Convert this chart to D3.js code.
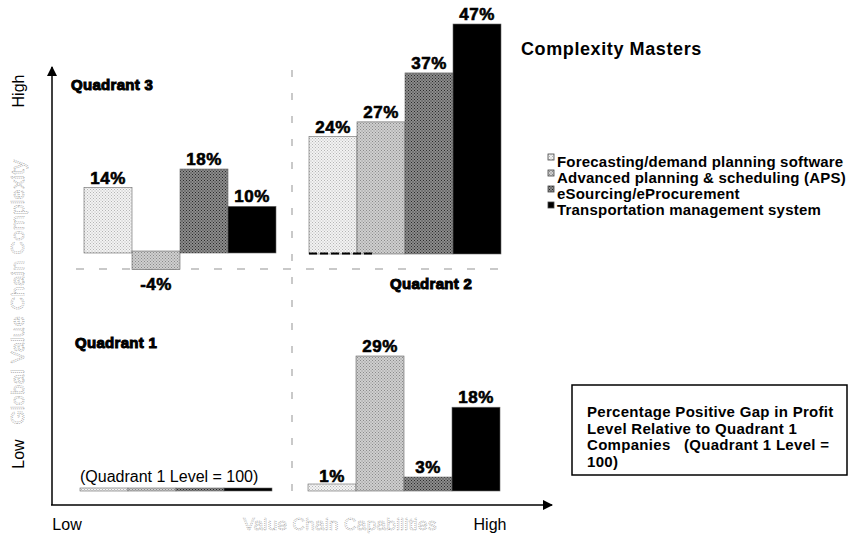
<!DOCTYPE html>
<html>
<head>
<meta charset="utf-8">
<script src="https://cdn.jsdelivr.net/npm/d3@7"></script>
<style>
  body { margin: 0; background: #fff; }
  text { font-family: "Liberation Sans", Arial, sans-serif; }
</style>
</head>
<body>
<script>
// series and values
const series = [
    "Forecasting/demand planning software",
    "Advanced planning & scheduling (APS)",
    "eSourcing/eProcurement",
    "Transportation management system"
]
const q3Values = [14, -4, 18, 10]
const q2Values = [24, 27, 37, 47]
const q1Values = [1, 29, 3, 18]
const q1Level = [0, 0, 0, 0]
const boxLines = [
    "Percentage Positive Gap in Profit",
    "Level Relative to Quadrant 1",
    "Companies   (Quadrant 1 Level =",
    "100)"
]

let width = 849
let height = 539

let svg = d3.select("body")
    .append("svg")
    .attr("width", width)
    .attr("height", height)

// textures close to the grey-scale print
let defs = svg.append("defs")
let patterns = [
    {id: "p0", bg: "#f3f3f3", fg: "#b5b5b5"},
    {id: "p1", bg: "#cfcfcf", fg: "#8a8a8a"},
    {id: "p2", bg: "#8c8c8c", fg: "#2a2a2a"},
    {id: "p3", bg: "#000000", fg: "#000000"}
]
patterns.forEach(p => {
    let pat = defs.append("pattern")
        .attr("id", p.id)
        .attr("width", 3).attr("height", 3)
        .attr("patternUnits", "userSpaceOnUse")
    pat.append("rect").attr("width", 3).attr("height", 3).attr("fill", p.bg)
    pat.append("rect").attr("width", 1).attr("height", 1).attr("fill", p.fg)
    pat.append("rect").attr("x", 1.5).attr("y", 1.5).attr("width", 1).attr("height", 1).attr("fill", p.fg)
})
let fillOf = i => "url(#p" + i + ")"

// axes with arrow heads
defs.append("marker")
    .attr("id", "arrow")
    .attr("viewBox", "0 0 10 10")
    .attr("refX", 9).attr("refY", 5)
    .attr("markerWidth", 7).attr("markerHeight", 7)
    .attr("orient", "auto")
    .append("path").attr("d", "M0,0 L10,5 L0,10 z").attr("fill", "#000")

svg.append("line")
    .attr("x1", 52).attr("y1", 505).attr("x2", 52).attr("y2", 67)
    .attr("stroke", "#000").attr("stroke-width", 1.5)
    .attr("marker-end", "url(#arrow)")
svg.append("line")
    .attr("x1", 51).attr("y1", 505).attr("x2", 552).attr("y2", 505)
    .attr("stroke", "#000").attr("stroke-width", 1.5)
    .attr("marker-end", "url(#arrow)")

// dotted quadrant dividers
svg.append("line")
    .attr("x1", 292).attr("y1", 70).attr("x2", 292).attr("y2", 492)
    .attr("stroke", "#b8b8b8").attr("stroke-width", 1.5)
    .attr("stroke-dasharray", "7,16")
svg.append("line")
    .attr("x1", 76).attr("y1", 269).attr("x2", 510).attr("y2", 269)
    .attr("stroke", "#b8b8b8").attr("stroke-width", 1.5)
    .attr("stroke-dasharray", "8,15")

// one group of four bars
function drawBars(values, xRange, yScale, minH, showLabels){
    let x = d3.scaleBand().domain(series).range(xRange)
    let g = svg.append("g")
    g.selectAll("rect")
        .data(values)
        .join("rect")
        .attr("x", (d, i) => x(series[i]))
        .attr("y", d => Math.min(yScale(Math.max(d, 0)), yScale(0) - minH))
        .attr("width", x.bandwidth())
        .attr("height", d => Math.max(Math.abs(yScale(d) - yScale(0)), minH))
        .attr("fill", (d, i) => fillOf(i))
        .attr("stroke", "#666")
        .attr("stroke-width", 0.6)
    if (!showLabels) return x
    g.selectAll("text")
        .data(values)
        .join("text")
        .attr("x", (d, i) => x(series[i]) + x.bandwidth() / 2)
        .attr("y", d => d < 0 ? yScale(d) + 18 : yScale(d) - 4)
        .attr("text-anchor", "middle")
        .attr("font-size", 17)
        .attr("font-weight", "bold")
        .attr("letter-spacing", 0.5)
        .attr("stroke", "#000").attr("stroke-width", 0.6)
        .text(d => d + "%")
    return x
}

let yQ3 = d3.scaleLinear().domain([0, 18]).range([253, 169])
let yQ2 = d3.scaleLinear().domain([0, 47]).range([254, 24])
let yQ1 = d3.scaleLinear().domain([0, 29]).range([491, 356])
let yLevel = d3.scaleLinear().domain([0, 29]).range([491, 356])

drawBars(q3Values, [84, 276], yQ3, 2, true)
drawBars(q2Values, [309, 501], yQ2, 2, true)
drawBars(q1Values, [308, 500], yQ1, 7, true)
drawBars(q1Level, [80, 272], yLevel, 3, false)

// dashed base under the first Quadrant 2 bars
svg.append("line")
    .attr("x1", 309).attr("y1", 253.5).attr("x2", 372).attr("y2", 253.5)
    .attr("stroke", "#000").attr("stroke-width", 2)
    .attr("stroke-dasharray", "8,3")

// quadrant titles
let heavy = (x, y, txt, size) => svg.append("text")
    .attr("x", x).attr("y", y)
    .attr("font-size", size)
    .attr("font-weight", "bold")
    .attr("letter-spacing", 0.3)
    .attr("stroke", "#000").attr("stroke-width", 1)
    .text(txt)
heavy(71, 90, "Quadrant 3", 15)
heavy(390, 289, "Quadrant 2", 15)
heavy(75, 348, "Quadrant 1", 15)

svg.append("text")
    .attr("x", 80).attr("y", 482)
    .attr("font-size", 16)
    .text("(Quadrant 1 Level = 100)")

svg.append("text")
    .attr("x", 521).attr("y", 55)
    .attr("font-size", 18)
    .attr("font-weight", "bold")
    .attr("letter-spacing", 0.6)
    .text("Complexity Masters")

// legend
let legend = svg.append("g")
series.forEach((s, i) => {
    let yy = 167 + i * 16
    legend.append("rect")
        .attr("x", 548).attr("y", yy - 13)
        .attr("width", 6).attr("height", 6)
        .attr("fill", fillOf(i))
        .attr("stroke", "#444").attr("stroke-width", 0.8)
    legend.append("text")
        .attr("x", 557).attr("y", yy)
        .attr("font-size", 15)
        .attr("font-weight", "bold")
        .attr("letter-spacing", 0.2)
        .text(s)
})

// axis words
let plain = (x, y, txt, rot, color, size, ls) => {
    let t = svg.append("text")
        .attr("transform", "translate(" + x + "," + y + ")" + (rot ? " rotate(-90)" : ""))
        .attr("text-anchor", "middle")
        .attr("font-size", size || 16)
        .attr("letter-spacing", ls || 0)
        .text(txt)
    if (color) {
        t.attr("fill", "#fff")
            .attr("stroke", color).attr("stroke-width", 0.7)
            .attr("stroke-dasharray", "1,1")
    }
    return t
}
plain(24, 91, "High", true)
plain(24, 292, "Global Value Chain Complexity", true, "#9c9c9c", 18, 0.6)
plain(24, 454, "Low", true)
plain(67, 530, "Low", false)
plain(340, 530, "Value Chain Capabilities", false, "#9c9c9c", 17, 0.4)
plain(490, 530, "High", false)

// note box
svg.append("rect")
    .attr("x", 572).attr("y", 385)
    .attr("width", 275).attr("height", 90)
    .attr("fill", "none")
    .attr("stroke", "#000").attr("stroke-width", 1.5)
svg.append("g").selectAll("text")
    .data(boxLines)
    .join("text")
    .attr("x", 587)
    .attr("y", (d, i) => 417 + i * 16.7)
    .attr("font-size", 15)
    .attr("font-weight", "bold")
    .attr("letter-spacing", 0.3)
    .attr("xml:space", "preserve")
    .style("white-space", "pre")
    .text(d => d)
</script>
</body>
</html>
